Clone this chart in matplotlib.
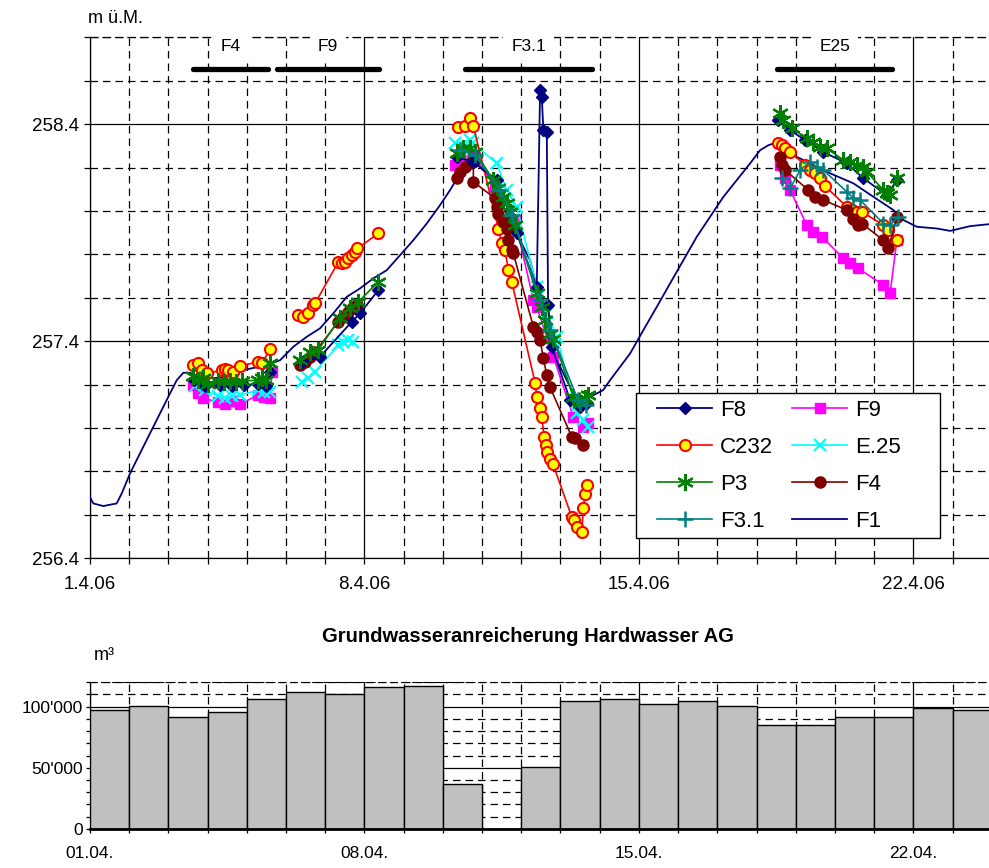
import numpy as np
import matplotlib.pyplot as plt
from matplotlib.ticker import MultipleLocator, FixedLocator
from matplotlib.patches import Rectangle
from matplotlib import font_manager

plt.rcParams['font.family'] = ['Liberation Sans', 'DejaVu Sans']

# schmale Schrift für das Balkendiagramm, falls vorhanden
installed = {f.name for f in font_manager.fontManager.ttflist}
narrow = [n for n in ['Liberation Sans Narrow', 'DejaVu Sans Condensed'] if n in installed]
narrow = (narrow[:1] or ['Liberation Sans']) + ['DejaVu Sans']

nan = np.nan

# Tage ab 1.4.06 (0 = 1.4.06 00:00), Pegel in m ü.M.
f1_day = [0.000, 0.084, 0.339, 0.681, 0.809, 1.020, 1.276, 1.531, 1.786, 2.041,
          2.212, 2.380, 2.551, 2.806, 3.138, 3.487, 3.997, 4.508, 4.847, 5.186,
          5.528, 5.867, 6.207, 6.548, 6.888, 7.227, 7.569, 7.908, 8.247, 8.589,
          8.929, 9.184, 9.439, 9.694, 9.821, 10.204, 10.459, 10.791, 10.969, 11.224,
          11.352, 11.735, 12.161, 12.449, 12.755, 13.087, 13.265, 13.776, 14.115, 14.457,
          14.796, 15.135, 15.477, 15.816, 16.156, 16.497, 16.837, 17.092, 17.304, 17.431,
          17.857, 18.112, 18.793, 19.472, 19.982, 20.492, 20.747, 21.089, 21.599, 21.939,
          22.449, 22.934]
f1_val = [256.681, 256.652, 256.640, 256.652, 256.698, 256.790, 256.883, 256.975, 257.067, 257.159,
          257.220, 257.254, 257.254, 257.235, 257.229, 257.235, 257.270, 257.289, 257.312, 257.374,
          257.420, 257.459, 257.528, 257.604, 257.643, 257.689, 257.727, 257.796, 257.865, 257.942,
          258.027, 258.096, 258.173, 258.211, 258.226, 258.157, 258.050, 257.927, 257.865, 257.773,
          257.681, 257.374, 257.220, 257.114, 257.143, 257.174, 257.220, 257.343, 257.451, 257.558,
          257.666, 257.773, 257.881, 257.973, 258.065, 258.142, 258.219, 258.280, 258.303, 258.311,
          258.262, 258.242, 258.180, 258.127, 258.065, 258.004, 257.958, 257.927, 257.919, 257.908,
          257.930, 257.939]

f8_day = [2.653, 2.934, 3.316, 3.622, 3.929, 4.286, 4.490, 4.592, nan,
          5.408, 5.867, 6.676, 6.888, 7.355, nan,
          9.355, 9.778, 10.375, 10.885, 11.395, 11.480, 11.523, 11.564, 11.651, 11.684,
          11.778, 12.245, 12.500, 12.671, nan,
          17.551, 17.857, 18.240, 18.699, 19.304, 19.727, 20.324, 20.579]
f8_val = [257.220, 257.193, 257.197, 257.193, 257.197, 257.202, 257.193, 257.257, nan,
          257.303, 257.328, 257.489, 257.528, 257.635, nan,
          258.249, 258.226, 258.142, 257.896, 257.650, 258.557, 258.524, 258.372, 258.363, 257.566,
          257.374, 257.128, 257.097, 257.113, nan,
          258.418, 258.372, 258.326, 258.272, 258.219, 258.150, 258.073, 258.142]

c232_day = [2.635, 2.763, 2.849, 2.977, 3.360, 3.444, 3.528, 3.656, 3.827, 4.293, 4.380, 4.592, nan,
            5.314, 5.441, 5.569, 5.696, 5.740, 6.334, 6.421, 6.505, 6.589, 6.676, 6.760, 6.819, 7.355, nan,
            9.395, 9.566, 9.694, 9.778, 10.416, 10.503, 10.587, 10.671, 10.758, 11.352, 11.395, 11.480,
            11.523, 11.582, 11.633, 11.666, 11.735, 11.804, 12.288, 12.347, 12.416, 12.543, 12.584,
            12.628, 12.671, nan,
            17.559, 17.645, 17.730, 17.857, 18.240, 18.367, 18.495, 18.622, 18.750, 19.304, 19.431,
            19.559, 19.686, 20.237, 20.365, 20.579]
c232_val = [257.289, 257.297, 257.266, 257.251, 257.266, 257.270, 257.266, 257.259, 257.285, 257.305, 257.297, 257.362, nan,
            257.520, 257.512, 257.528, 257.566, 257.574, 257.765, 257.758, 257.765, 257.781, 257.796, 257.812, 257.827, 257.896, nan,
            258.388, 258.391, 258.426, 258.391, 257.919, 257.850, 257.819, 257.727, 257.673, 257.208, 257.143, 257.090,
            257.051, 256.959, 256.921, 256.890, 256.859, 256.836, 256.590, 256.575, 256.544, 256.521, 256.629,
            256.695, 256.736, nan,
            258.311, 258.303, 258.288, 258.272, 258.211, 258.188, 258.173, 258.150, 258.114, 258.019, 258.004,
            257.996, 257.996, 257.935, 257.912, 257.865]

p3_day = [2.628, 2.755, 2.883, 3.010, 3.265, 3.418, 3.571, 3.724, 3.878, 4.286, 4.388, 4.490, 4.592, nan,
          5.357, 5.612, 5.816, 6.378, 6.633, 6.837, 7.355, nan,
          9.355, 9.523, 9.694, 9.821, 10.288, 10.416, 10.543, 10.630, 10.714, 10.842, 11.395, 11.523,
          11.607, 11.735, 11.819, 12.329, 12.500, 12.628, 12.712, nan,
          17.602, 17.686, 17.901, 18.283, 18.452, 18.622, 18.793, 19.217, 19.388, 19.559, 19.727,
          19.814, 20.237, 20.324, 20.408, 20.579]
p3_val = [257.239, 257.220, 257.229, 257.202, 257.216, 257.211, 257.216, 257.211, 257.216, 257.220, 257.229, 257.220, 257.299, nan,
          257.312, 257.349, 257.359, 257.506, 257.552, 257.580, 257.673, nan,
          258.265, 258.288, 258.288, 258.272, 258.142, 258.104, 258.065, 258.035, 257.996, 257.935, 257.620, 257.558,
          257.497, 257.435, 257.412, 257.143, 257.113, 257.136, 257.151, nan,
          258.449, 258.418, 258.380, 258.334, 258.318, 258.295, 258.288, 258.234, 258.226, 258.211, 258.203,
          258.180, 258.096, 258.081, 258.073, 258.150]

f31_day = [9.439, 9.821, 10.459, 10.765, 11.480, 11.735, 12.449, 12.653, nan,
           17.645, 17.857, 18.112, 18.367, 18.538, 18.707, 19.304, 19.472, 19.643, 20.237, 20.408, 20.620]
f31_val = [258.280, 258.257, 258.096, 257.981, 257.589, 257.451, 257.128, 257.105, nan,
           258.150, 258.104, 258.188, 258.226, 258.203, 258.188, 258.088, 258.058, 258.050, 257.942, 257.935, 257.973]

f9_day = [2.628, 2.755, 2.883, 3.265, 3.444, 3.622, 3.827, 4.286, 4.439, 4.592, 4.643, nan,
          9.311, 9.439, 9.778, 10.332, 10.842, 11.309, 11.395, 11.819, 12.329, 12.584, 12.712, nan,
          17.602, 17.730, 17.857, 18.283, 18.452, 18.666, 19.217, 19.388, 19.599, 20.237, 20.408, 20.579]
f9_val = [257.197, 257.160, 257.137, 257.119, 257.110, 257.124, 257.110, 257.151, 257.142, 257.137, 257.257, nan,
          258.211, 258.242, 258.257, 258.111, 257.958, 257.589, 257.558, 257.328, 257.051, 257.005, 257.021, nan,
          258.211, 258.150, 258.096, 257.935, 257.904, 257.881, 257.781, 257.758, 257.735, 257.658, 257.620, 257.865]

e25_day = [2.679, 2.934, 3.265, 3.444, 3.622, 3.827, 4.286, 4.439, 4.592, nan,
           5.401, 5.569, 5.740, 6.334, 6.462, 6.589, 6.717, nan,
           9.311, 9.694, 9.778, 10.375, 10.630, 10.885, 11.395, 11.651, 11.906, 12.416, 12.584, 12.712]
e25_val = [257.193, 257.174, 257.147, 257.137, 257.147, 257.151, 257.174, 257.165, 257.165, nan,
           257.212, 257.228, 257.259, 257.382, 257.397, 257.405, 257.397, nan,
           258.311, 258.326, 258.311, 258.219, 258.096, 258.019, 257.650, 257.528, 257.420, 257.067, 257.036, 257.005]

f4_day = [5.357, 5.485, 5.612, 5.740, 6.334, 6.462, 6.589, 6.717, 6.804, nan,
          9.355, 9.439, 9.566, 9.694, 9.778, 9.778, 10.332, 10.375, 10.416, 10.543, 10.630, 10.671,
          10.758, 10.798, 11.309, 11.395, 11.480, 11.564, 11.651, 11.735, 12.288, 12.372, 12.584, nan,
          17.602, 17.645, 17.730, 18.324, 18.495, 18.707, 19.304, 19.472, 19.599, 19.686, 20.237, 20.365, 20.579]
f4_val = [257.289, 257.305, 257.328, 257.351, 257.489, 257.512, 257.535, 257.558, 257.566, nan,
          258.150, 258.180, 258.203, 258.219, 258.226, 258.134, 258.058, 258.019, 257.988, 257.950, 257.919, 257.865,
          257.819, 257.804, 257.466, 257.443, 257.405, 257.320, 257.243, 257.187, 256.959, 256.952, 256.921, nan,
          258.249, 258.211, 258.188, 258.096, 258.065, 258.050, 258.004, 257.965, 257.935, 257.942, 257.865, 257.827, 257.973]

# Versuchsphasen (Markierung oben)
phase_names = ['F4', 'F9', 'F3.1', 'E25']
phase_start = [2.63, 4.77, 9.57, 17.53]
phase_end = [4.54, 7.37, 12.81, 20.46]

# Anreicherung pro Tag in m3
infil_day = list(range(23))
infil_m3 = [97300, 100500, 91800, 96000, 106500, 112300, 110400, 116400, 116600, 36700,
            0, 50400, 104700, 106300, 101900, 104700, 100300, 85200, 85200, 91500,
            91500, 99200, 97000]

top_ticks = [0, 7, 14, 21]
top_ticklabels = ['1.4.06', '8.4.06', '15.4.06', '22.4.06']
bot_ticklabels = ['01.04.', '08.04.', '15.04.', '22.04.']

XMAX = 22.93
dash = (0, (6, 4))

fig = plt.figure(figsize=(9.89, 8.68), dpi=100)
ax = fig.add_axes([0.091, 0.357, 0.909, 0.600])
ax2 = fig.add_axes([0.091, 0.045, 0.909, 0.169])

# --- Pegelganglinien ---
ax.plot(f1_day, f1_val, color='#000080', lw=1.3, label='F1', zorder=3)
ax.plot(f9_day, f9_val, color='#FF00FF', lw=1.2, marker='s', ms=7, mec='#FF00FF', label='F9', zorder=4)
ax.plot(e25_day, e25_val, color='#00FFFF', lw=1.2, marker='x', ms=9, mew=1.6, label='E.25', zorder=5)
ax.plot(c232_day, c232_val, color='#FF0000', lw=1.2, marker='o', ms=8, mfc='#FFFF00', mec='#FF0000',
        mew=1.5, label='C232', zorder=6)
ax.plot(f4_day, f4_val, color='#800000', lw=1.2, marker='o', ms=8, mec='#800000', label='F4', zorder=7)
ax.plot(f8_day, f8_val, color='#000080', lw=1.3, marker='D', ms=6.5, label='F8', zorder=8)
ax.plot(p3_day, p3_val, color='#008000', lw=1.2, marker=(6, 2, 0), ms=12, mew=1.6, label='P3', zorder=9)
ax.plot(f31_day, f31_val, color='#008080', lw=1.2, marker='+', ms=11, mew=1.8, label='F3.1', zorder=10)

ax.set_xlim(0, XMAX)
ax.set_ylim(256.4, 258.8)
ax.xaxis.set_major_locator(FixedLocator(top_ticks))
ax.xaxis.set_minor_locator(MultipleLocator(1))
ax.set_xticklabels(top_ticklabels)
ax.yaxis.set_major_locator(FixedLocator([256.4, 257.4, 258.4]))
ax.yaxis.set_minor_locator(MultipleLocator(0.2))
ax.set_yticklabels(['256.4', '257.4', '258.4'])
ax.grid(which='major', color='black', lw=0.9, ls='-')
ax.grid(which='minor', color='black', lw=0.9, ls=dash)
ax.set_axisbelow(True)
ax.tick_params(which='both', labelsize=13.5, direction='out', length=4, width=0.9)
ax.tick_params(axis='x', pad=9)
ax.spines['right'].set_visible(False)
ax.spines['top'].set_linestyle(dash)
for s in ['left', 'bottom', 'top']:
    ax.spines[s].set_linewidth(0.9)

fig.text(0.089, 0.979, 'm ü.M.', fontsize=13, ha='left', va='center')

for name, a, b in zip(phase_names, phase_start, phase_end):
    ax.plot([a, b], [258.653, 258.653], color='black', lw=3.8, solid_capstyle='round',
            clip_on=False, zorder=12)
    ax.text((a + b) / 2, 258.76, name, fontsize=12.5, ha='center', va='center', zorder=12,
            bbox=dict(facecolor='white', edgecolor='none', pad=6), clip_on=False)

# Legende: Rahmen separat, damit Box und Inhalt unabhängig sitzen
ax.add_patch(Rectangle((0.6073, 0.0384), 0.3382, 0.2783, transform=ax.transAxes,
                       facecolor='white', edgecolor='black', lw=1.0, zorder=19))
handles, labels = ax.get_legend_handles_labels()
order = ['F8', 'C232', 'P3', 'F3.1', 'F9', 'E.25', 'F4', 'F1']
hmap = dict(zip(labels, handles))
leg = ax.legend([hmap[k] for k in order], order, ncol=2, loc='upper left',
                bbox_to_anchor=(0.6307, 0.3045), borderaxespad=0, borderpad=0,
                fontsize=16, numpoints=1, handlelength=2.48, handletextpad=0.36,
                columnspacing=0.85, labelspacing=0.72, frameon=False)
leg.set_zorder(20)

# --- Grundwasseranreicherung ---
ax2.bar(infil_day, infil_m3, width=1.0, align='edge', color='#C0C0C0', edgecolor='black',
        lw=1.0, zorder=3)
ax2.set_xlim(0, XMAX)
ax2.set_ylim(0, 120000)
ax2.xaxis.set_major_locator(FixedLocator(top_ticks))
ax2.xaxis.set_minor_locator(MultipleLocator(1))
ax2.set_xticklabels(bot_ticklabels, family=narrow)
ax2.yaxis.set_major_locator(FixedLocator([0, 50000, 100000]))
ax2.yaxis.set_minor_locator(MultipleLocator(10000))
ax2.set_yticklabels(['0', "50'000", "100'000"], family=narrow)
ax2.grid(which='major', color='black', lw=0.9, ls='-')
ax2.grid(which='minor', color='black', lw=0.9, ls=dash)
ax2.set_axisbelow(True)
ax2.tick_params(which='both', labelsize=12.5, direction='out', length=3, width=0.9)
ax2.tick_params(axis='x', pad=9)
ax2.tick_params(axis='y', pad=2)
ax2.spines['right'].set_visible(False)
ax2.spines['top'].set_linestyle(dash)
ax2.spines['bottom'].set_linewidth(2.0)
ax2.spines['bottom'].set_zorder(5)
ax2.spines['left'].set_linewidth(0.9)

fig.text(0.534, 0.267, 'Grundwasseranreicherung Hardwasser AG', fontsize=14.5,
         fontweight='bold', ha='center', va='center')
fig.text(0.095, 0.245, 'm³', fontsize=13, ha='left', va='center')

fig.savefig('out.png', dpi=100)
